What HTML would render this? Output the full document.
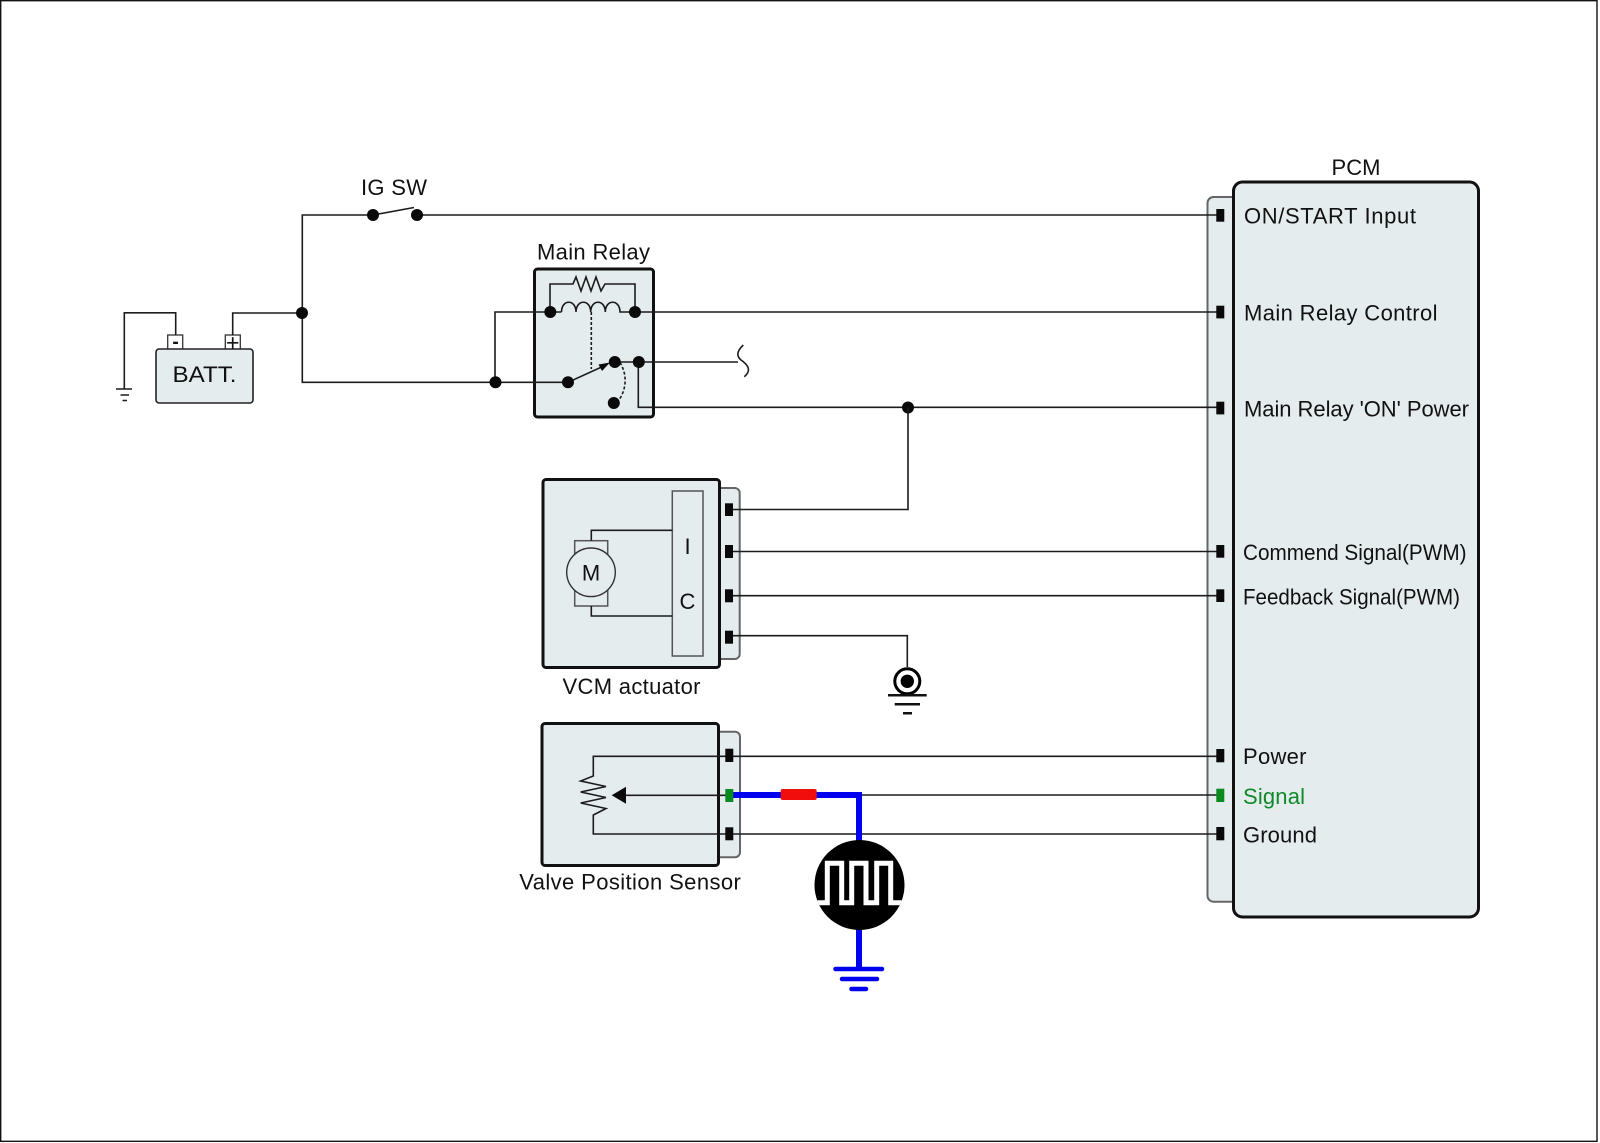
<!DOCTYPE html>
<html><head><meta charset="utf-8"><style>
html,body{margin:0;padding:0;background:#fff}
svg{display:block}
text{font-family:"Liberation Sans",Arial,sans-serif;font-size:22px;fill:#111}
.w{fill:none;stroke:#1c1c1c;stroke-width:1.6}
.f{fill:#e5eced;stroke:#111;stroke-width:3}
.b{fill:#e5eced;stroke:#666;stroke-width:2}
.p{fill:#0a0a0a}
.bl{fill:none;stroke:#0000f0}
</style></head><body>
<svg width="1600" height="1143" viewBox="0 0 1600 1143" xmlns="http://www.w3.org/2000/svg">
<rect width="1600" height="1143" fill="#fff"/>
<path d="M.7 .7H1597V1141.3H.7Z" fill="none" stroke="#111" stroke-width="1.4"/>

<!-- backing boxes first so wires sit on top -->
<rect class="b" x="1207.5" y="197" width="40" height="704.7" rx="6"/>
<rect class="f" x="534.5" y="269" width="119" height="148" rx="3"/>
<rect class="b" x="715" y="488" width="24.7" height="171" rx="5"/>
<rect class="b" x="715" y="731.7" width="25" height="125.5" rx="5"/>

<!-- battery -->
<rect x="167.7" y="335" width="15" height="14.5" fill="#fff" stroke="#333" stroke-width="1.3"/>
<rect x="225.3" y="335" width="15" height="14.5" fill="#fff" stroke="#333" stroke-width="1.3"/>
<rect x="156" y="349" width="97" height="54" rx="3" fill="#e5eced" stroke="#222" stroke-width="1.6"/>
<text x="172.5" y="382" textLength="64" lengthAdjust="spacingAndGlyphs">BATT.</text>
<text x="175.5" y="348" text-anchor="middle" style="font-size:19px;font-weight:bold">-</text>
<text x="232.7" y="350.5" text-anchor="middle" style="font-size:23px">+</text>
<path class="w" d="M175.7 335V312.8H124.3V389"/>
<path class="w" d="M116 389H132M120.5 395H129M122.5 400.5H127"/>
<path class="w" stroke-width="2" d="M232.7 335V313H302"/>
<path class="w" d="M373 215H302.3V382.3H568"/>

<!-- IG SW -->
<text x="361" y="195" textLength="66">IG SW</text>
<path class="w" d="M373 215L414 207.5M417 215H1216.5"/>

<!-- Main Relay -->
<text x="537" y="259.3" textLength="113">Main Relay</text>
<path class="w" d="M550 312V284H573L576 277L581 291L586 277L591 291L596 277L601 291L605 284H635V312"/>
<path class="w" d="M495 382.3V312H561.5M561.5 312C561.5 299 576 299 576 312C576 299 590.7 299 590.7 312C590.7 299 605.3 299 605.3 312C605.3 299 620 299 620 312H1216.5"/>
<path class="w" stroke-dasharray="3 2" d="M591.3 312V369"/>
<path class="w" stroke-width="1.8" d="M568 382.3L606 365"/>
<path class="p" d="M610 362.5L602 371L598.5 364.5Z"/>
<path class="w" stroke-dasharray="3 2" d="M620 362.5C627 374 627 388 619 400"/>
<path class="w" d="M614.3 362H738M743.3 345C736 352 736 357 743.3 361.7C750 367 750 372 744.3 376.7"/>
<path class="w" d="M638.3 362V407.3H1216.5"/>
<g class="p">
<circle cx="373" cy="215" r="6"/><circle cx="417" cy="215" r="6"/><circle cx="302" cy="313" r="6"/>
<circle cx="495.5" cy="382.3" r="6"/><circle cx="550.3" cy="312" r="6"/><circle cx="635" cy="312" r="6"/>
<circle cx="568" cy="382.3" r="6"/><circle cx="614.8" cy="362" r="6"/><circle cx="638.8" cy="362" r="6"/>
<circle cx="613.8" cy="403" r="6"/><circle cx="908" cy="407.5" r="6"/>
</g>

<!-- VCM wires -->
<path class="w" d="M908 407.5V509.5H733"/>
<path class="w" d="M733 551.5H1216.5M733 595.7H1216.5M733 635.7H907.3V667"/>

<!-- VCM actuator -->
<rect class="f" x="543" y="479.5" width="176.5" height="188" rx="3"/>
<rect x="672.3" y="491" width="30.7" height="165" fill="#e5eced" stroke="#555" stroke-width="1.5"/>
<rect x="574.7" y="540.7" width="33" height="65.3" fill="#e5eced" stroke="#555" stroke-width="1.5"/>
<circle cx="591" cy="572.3" r="24.3" fill="#e5eced" stroke="#333" stroke-width="1.4"/>
<path class="w" d="M591.3 540.7V530.3H672.3M591.3 606V616H672.3"/>
<text x="591" y="580.5" text-anchor="middle">M</text>
<text x="687.5" y="554" text-anchor="middle">I</text>
<text x="687.5" y="609" text-anchor="middle">C</text>
<text x="562.5" y="694" textLength="138">VCM actuator</text>
<g class="p">
<rect x="725" y="503.3" width="8" height="12.7"/><rect x="725" y="545" width="8" height="13"/>
<rect x="725" y="589.3" width="8" height="13"/><rect x="725" y="630.7" width="8" height="13"/>
</g>

<!-- chassis ground -->
<circle cx="907.3" cy="681.3" r="12.5" fill="#fff" stroke="#000" stroke-width="3"/>
<circle cx="907.3" cy="681.3" r="6.7" fill="#000"/>
<path d="M888 695.3H926.7M894.7 704.3H920M903 713.3H912" stroke="#111" stroke-width="2.5" fill="none"/>

<!-- Valve Position Sensor -->
<rect class="f" x="542" y="723.5" width="176.5" height="142" rx="3"/>
<path class="w" d="M733 756.3H593.3V776L580.7 781L606 786.5L580.7 792L606 797.5L580.7 803L606 808.5L593.3 815V834H1216.5"/>
<path class="w" d="M626 795.3H725.5M733 756.3H1216.5M859 795H1216.5"/>
<path class="p" d="M611.7 795.3L626 786.7V803.7Z"/>
<rect x="725.3" y="748.7" width="8" height="13.3" class="p"/>
<rect x="725.3" y="827.3" width="8" height="13" class="p"/>
<text x="519.3" y="889.3" textLength="221.5">Valve Position Sensor</text>

<!-- blue signal probe -->
<path class="bl" stroke-width="6" d="M733 795H859V970"/>
<rect x="725.3" y="789" width="8" height="13" fill="#0b8a20"/>
<rect x="780.7" y="789" width="36" height="11" rx="2" fill="#f20d0d"/>
<circle cx="859.5" cy="885" r="45" fill="#000"/>
<clipPath id="c"><circle cx="859.5" cy="885" r="45"/></clipPath>
<path clip-path="url(#c)" d="M810 902.7H827.3V863.3H841.7V902.7H851.7V863.3H866V902.7H876.7V863.3H890.7V902.7H910" fill="none" stroke="#fff" stroke-width="5"/>
<path class="bl" stroke-width="4.5" stroke-linecap="round" d="M835.5 969H882M842 979H877M851.5 989H866"/>

<!-- PCM -->
<text x="1331.5" y="175" textLength="49">PCM</text>
<rect class="f" x="1233.5" y="182" width="245" height="735" rx="9"/>
<g class="p">
<rect x="1216.3" y="209" width="8" height="12.7"/><rect x="1216.3" y="305.7" width="8" height="12.7"/>
<rect x="1216.3" y="401.7" width="8" height="12.7"/><rect x="1216.3" y="545" width="8" height="12.7"/>
<rect x="1216.3" y="589.3" width="8" height="12.7"/><rect x="1216.3" y="749" width="8" height="13.3"/>
<rect x="1216.3" y="827" width="8" height="13.3"/>
</g>
<rect x="1216.3" y="788.7" width="8" height="13.3" fill="#0b8a20"/>
<text x="1244" y="223.3" textLength="172">ON/START Input</text>
<text x="1244" y="320.7" textLength="193.5">Main Relay Control</text>
<text x="1244" y="416.7" textLength="225">Main Relay 'ON' Power</text>
<text x="1243" y="560" textLength="223.5" lengthAdjust="spacingAndGlyphs">Commend Signal(PWM)</text>
<text x="1243" y="604.5" textLength="217" lengthAdjust="spacingAndGlyphs">Feedback Signal(PWM)</text>
<text x="1243" y="764" textLength="63.5">Power</text>
<text x="1243" y="804" textLength="62" style="fill:#0f8a2a">Signal</text>
<text x="1243" y="842.7" textLength="74">Ground</text>
</svg>
</body></html>
